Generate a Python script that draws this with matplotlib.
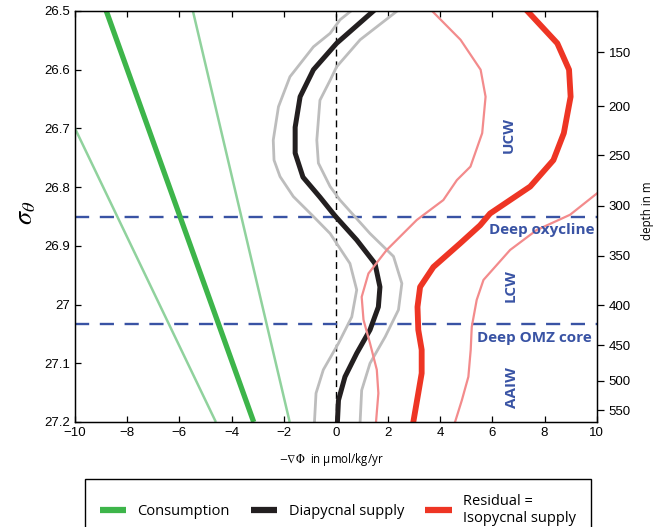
import matplotlib
matplotlib.use("Agg")

import matplotlib.pyplot as plt
from matplotlib.lines import Line2D


# -----------------------------
# DATA
# -----------------------------
SIG_LIM = (26.5, 27.2)
X_LIM = (-10, 10)

x_ticks = [-10, -8, -6, -4, -2, 0, 2, 4, 6, 8, 10]
sig_ticks = [26.5, 26.6, 26.7, 26.8, 26.9, 27.0, 27.1, 27.2]

depth_labels = [150, 200, 250, 300, 350, 400, 450, 500, 550]
depth_sigma = [26.570, 26.662, 26.746, 26.832, 26.917, 27.001, 27.069, 27.130, 27.180]

# consumption (straight lines): mean and two bounds
cons_sig = [26.5, 27.2]
cons_mean = [-8.8, -3.15]
cons_hi_sig = [26.5, 27.2]
cons_hi = [-5.48, -1.77]
cons_lo_sig = [26.7, 27.2]
cons_lo = [-10.0, -4.6]

# diapycnal supply
dia_sig = [26.500, 26.555, 26.600, 26.646, 26.698, 26.742, 26.783, 26.817,
           26.849, 26.890, 26.930, 26.970, 27.004, 27.043, 27.083, 27.123,
           27.163, 27.200]
dia = [1.44, 0.03, -0.86, -1.37, -1.56, -1.56, -1.26, -0.61,
       -0.03, 0.80, 1.50, 1.69, 1.63, 1.31, 0.80, 0.35,
       0.10, 0.06]

dia_lo_sig = [26.500, 26.515, 26.538, 26.561, 26.612, 26.663, 26.720, 26.754,
              26.782, 26.816, 26.850, 26.879, 26.930, 26.975, 27.021, 27.066,
              27.111, 27.151, 27.200]
dia_lo = [0.58, 0.16, -0.22, -0.86, -1.76, -2.20, -2.40, -2.37,
          -2.14, -1.63, -0.86, -0.22, 0.54, 0.80, 0.61, 0.10,
          -0.48, -0.76, -0.82]

dia_hi_sig = [26.500, 26.549, 26.595, 26.618, 26.652, 26.720, 26.759, 26.799,
              26.822, 26.879, 26.918, 26.964, 27.009, 27.055, 27.100, 27.146,
              27.200]
dia_hi = [2.35, 0.93, 0.03, -0.22, -0.61, -0.73, -0.67, -0.22,
          0.16, 1.31, 2.21, 2.53, 2.40, 1.89, 1.31, 0.99,
          0.93]

# residual = isopycnal supply
res_sig = [26.500, 26.555, 26.600, 26.646, 26.708, 26.754, 26.799, 26.845,
           26.865, 26.896, 26.936, 26.970, 27.004, 27.043, 27.077, 27.117,
           27.151, 27.200]
res = [7.34, 8.49, 8.94, 9.00, 8.74, 8.34, 7.45, 5.91,
       5.53, 4.76, 3.74, 3.23, 3.13, 3.16, 3.29, 3.29,
       3.16, 2.97]

res_lo_sig = [26.500, 26.549, 26.600, 26.646, 26.708, 26.765, 26.788, 26.822,
              26.856, 26.907, 26.947, 26.987, 27.026, 27.066, 27.111, 27.151,
              27.200]
res_lo = [3.69, 4.78, 5.55, 5.74, 5.61, 5.16, 4.64, 4.12,
          3.10, 1.95, 1.25, 0.99, 1.06, 1.31, 1.57, 1.63,
          1.54]

res_hi_sig = [26.811, 26.847, 26.873, 26.907, 26.958, 26.992, 27.038, 27.077,
              27.123, 27.163, 27.200]
res_hi = [10.0, 8.98, 7.70, 6.68, 5.66, 5.40, 5.21, 5.17,
          5.08, 4.83, 4.57]

layer_bounds = [26.85, 27.033]

region_names = ["UCW", "Deep oxycline", "LCW", "Deep OMZ core", "AAIW"]
region_x = [6.62, 7.90, 6.71, 7.62, 6.74]
region_sig = [26.711, 26.873, 26.968, 27.057, 27.141]
region_rot = [90, 0, 90, 0, 90]

legend_labels = ["Consumption", "Diapycnal supply", "Residual =\nIsopycnal supply"]


# -----------------------------
# STYLE
# -----------------------------
GREEN = "#3db54a"
GREEN_LIGHT = "#90d29d"
BLACK = "#231f20"
GRAY = "#bdbdbd"
RED = "#ee3524"
RED_LIGHT = "#f38b8c"
BLUE = "#3953a4"

TICK_FONT = "Liberation Sans"
TEXT_FONT = "Open Sans"

plt.rcParams["mathtext.fontset"] = "stix"
plt.rcParams["lines.solid_joinstyle"] = "round"

fig = plt.figure(figsize=(6.65, 5.27), dpi=100, facecolor="white")
ax = fig.add_axes([75 / 665, 105 / 527, 521.7 / 665, 411 / 527])

# consumption
ax.plot(cons_lo, cons_lo_sig, color=GREEN_LIGHT, lw=1.8, solid_capstyle="butt")
ax.plot(cons_hi, cons_hi_sig, color=GREEN_LIGHT, lw=1.8, solid_capstyle="butt")
ax.plot(cons_mean, cons_sig, color=GREEN, lw=3.8, solid_capstyle="butt")

# diapycnal
ax.plot(dia_lo, dia_lo_sig, color=GRAY, lw=2.0)
ax.plot(dia_hi, dia_hi_sig, color=GRAY, lw=2.0)
ax.plot(dia, dia_sig, color=BLACK, lw=3.6)

# residual
ax.plot(res_lo, res_lo_sig, color=RED_LIGHT, lw=1.6)
ax.plot(res_hi, res_hi_sig, color=RED_LIGHT, lw=1.6)
ax.plot(res, res_sig, color=RED, lw=4.2)

# zero line and layer boundaries
ax.axvline(0, color="black", lw=1.0, linestyle=(0, (5, 3.5)), zorder=1)
for s in layer_bounds:
    ax.axhline(s, color=BLUE, lw=1.7, linestyle=(0, (6, 4.5)), zorder=1)

for name, xv, sv, rot in zip(region_names, region_x, region_sig, region_rot):
    ax.text(xv, sv, name, color=BLUE, fontsize=11, fontweight="bold",
            family=TEXT_FONT, rotation=rot, ha="center", va="center")

ax.set_xlim(*X_LIM)
ax.set_ylim(SIG_LIM[1], SIG_LIM[0])
ax.set_xticks(x_ticks)
ax.set_yticks(sig_ticks)
ax.set_yticklabels([f"{v:g}" for v in sig_ticks])
ax.tick_params(axis="both", which="both", direction="in", length=4, width=0.9,
               top=True, right=True, labelsize=9.5, pad=3.5)
for lab in ax.get_xticklabels() + ax.get_yticklabels():
    lab.set_family(TICK_FONT)
for sp in ax.spines.values():
    sp.set_linewidth(1.0)

# depth axis on the right
ax2 = ax.twinx()
ax2.set_ylim(SIG_LIM[1], SIG_LIM[0])
ax2.set_yticks(depth_sigma)
ax2.set_yticklabels([str(d) for d in depth_labels])
ax2.tick_params(axis="y", direction="out", length=5, width=0.9, labelsize=9.5, pad=3.5)
for lab in ax2.get_yticklabels():
    lab.set_family(TICK_FONT)

# axis labels
fig.text(25 / 665, 1 - 213 / 527, r"$\sigma_\theta$", fontsize=19,
         rotation=90, ha="center", va="center")
fig.text(648 / 665, 1 - 211 / 527, "depth in m", fontsize=8.3, family=TEXT_FONT,
         rotation=90, ha="center", va="center")
fig.text(331.7 / 665, 1 - 460 / 527, r"$-\nabla\Phi$  in μmol/kg/yr", fontsize=8.3,
         family=TEXT_FONT, ha="center", va="center")

# legend
handles = [Line2D([], [], color=c, lw=4.5, solid_capstyle="butt") for c in (GREEN, BLACK, RED)]
leg = fig.legend(handles, legend_labels, loc="upper left",
                 bbox_to_anchor=(85 / 665, 1 - 479 / 527, 506 / 665, 0),
                 mode="expand", ncol=3, frameon=True, fancybox=False,
                 edgecolor="black", framealpha=1, borderpad=1.0,
                 handlelength=1.8, handletextpad=0.8, columnspacing=1.5,
                 borderaxespad=0, prop={"family": TEXT_FONT, "size": 10.5})
leg.get_frame().set_linewidth(1.0)

fig.savefig("out.png", dpi=100, facecolor="white")
